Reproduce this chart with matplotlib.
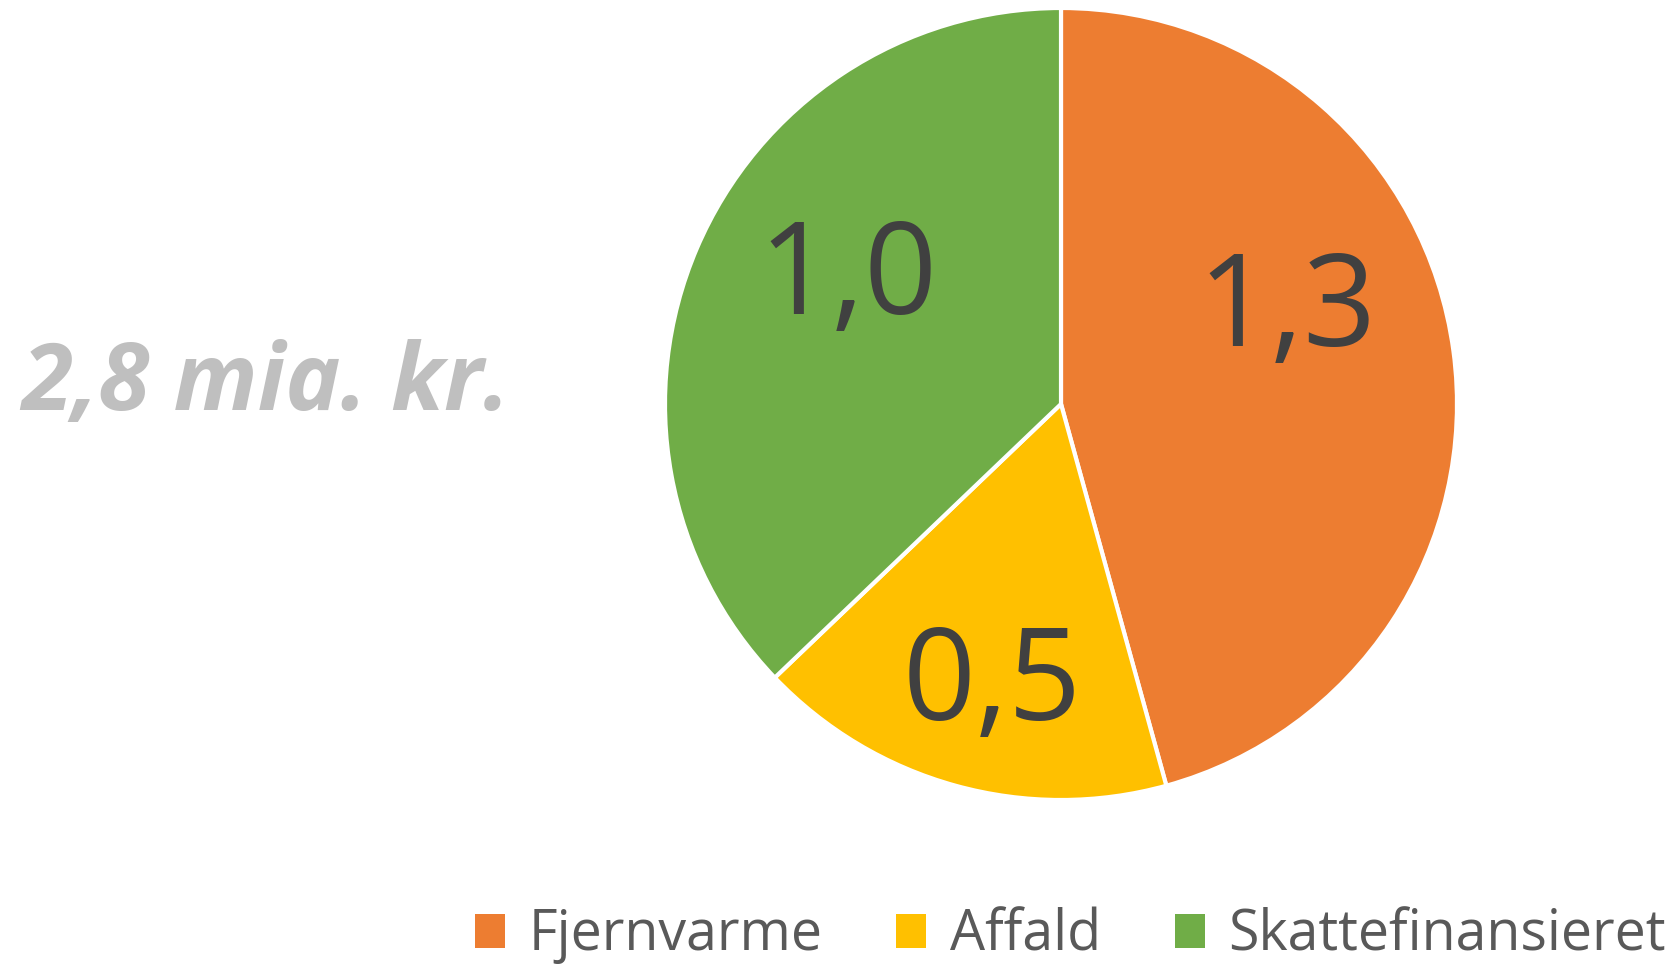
import matplotlib
matplotlib.use("Agg")
import matplotlib.pyplot as plt
from matplotlib.patches import Patch

categories = ["Fjernvarme", "Affald", "Skattefinansieret"]
values = [1.28, 0.48, 1.04]
value_labels = ["1,3", "0,5", "1,0"]
total_label = "2,8 mia. kr."
colors = ["#ED7D31", "#FFC000", "#70AD47"]

W, H = 1681, 966
fig = plt.figure(figsize=(W / 100, H / 100), dpi=100)
cx, cy, r = 1061, 404, 396
ax = fig.add_axes([(cx - r) / W, (H - cy - r) / H, 2 * r / W, 2 * r / H])
wedges, _ = ax.pie(values, colors=colors, startangle=90, counterclock=False,
                   radius=1, wedgeprops=dict(edgecolor="white", linewidth=3))
ax.set_xlim(-1.0, 1.0)
ax.set_ylim(-1.0, 1.0)
ax.set_aspect("equal")
ax.axis("off")

label_pos = [(0.57, 0.23), (-0.175, -0.714), (-0.537, 0.311)]
for (x, y), t in zip(label_pos, value_labels):
    ax.text(x, y, t, ha="center", va="center", fontsize=92, color="#404040",
            family=["Open Sans", "DejaVu Sans"])

fig.text(21 / W, 1 - 385 / H, total_label, ha="left", va="center", fontsize=67,
         color="#BFBFBF", fontweight="bold", fontstyle="italic",
         family=["Open Sans", "DejaVu Sans"])

handles = [Patch(facecolor=c, edgecolor="none") for c in colors]
leg = fig.legend(handles, categories, loc="center left",
                 bbox_to_anchor=(475 / W, 1 - 936 / H), ncol=3, frameon=False,
                 prop=dict(family=["Open Sans", "DejaVu Sans"], size=40), labelcolor="#595959",
                 handlelength=0.54, handleheight=0.58, handletextpad=0.42,
                 columnspacing=1.33, borderpad=0, borderaxespad=0)

fig.savefig("out.png", dpi=100)
